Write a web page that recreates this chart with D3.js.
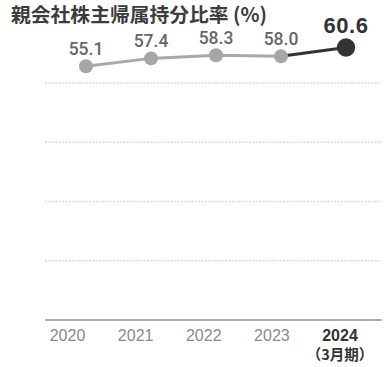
<!DOCTYPE html>
<html><head><meta charset="utf-8">
<script src="https://cdn.jsdelivr.net/npm/d3@7"></script>
<style>body{margin:0;background:#fff}svg{display:block}</style>
</head><body>
<svg id="c" width="392" height="367"></svg>
<script>
const title = "親会社株主帰属持分比率 (%)";
const years = ["2020","2021","2022","2023","2024"];
const values = [55.1, 57.4, 58.3, 58.0, 60.6];
const subLabel = "（3月期）";
const gridTicks = [0, 1, 2, 3];

const svg = d3.select("#c");
const font = "'Liberation Sans','Noto Sans CJK JP',sans-serif";

const x = d3.scalePoint().domain(years).range([86, 346]);
const xLab = d3.scalePoint().domain(years).range([67.5, 340]);
const y = d3.scaleLinear().domain([55.1, 60.6]).range([66.2, 47.5]);
const g = d3.scaleLinear().domain([0, 4]).range([83, 320]);

svg.append("text").attr("x", 11).attr("y", 22)
  .attr("font-family", "'Noto Sans CJK JP',sans-serif").attr("font-weight", 700)
  .attr("font-size", 19.8).attr("fill", "#3c3c3c").text(title);

svg.selectAll("line.grid").data(gridTicks).join("line").attr("class","grid")
  .attr("x1", 45).attr("x2", 382).attr("y1", d => g(d)).attr("y2", d => g(d))
  .attr("stroke", "#d9d9d9").attr("stroke-width", 1.5).attr("stroke-dasharray", "2,1.4");

svg.append("line").attr("x1", 45).attr("x2", 382).attr("y1", g(4)).attr("y2", g(4))
  .attr("stroke", "#ababab").attr("stroke-width", 1.8);

const pts = years.map((d, i) => ({year: d, v: values[i]}));
const line = d3.line().x(d => x(d.year)).y(d => y(d.v));
svg.append("path").attr("d", line(pts.slice(0, 4))).attr("fill", "none")
  .attr("stroke", "#a9a9ab").attr("stroke-width", 3);
svg.append("path").attr("d", line(pts.slice(3))).attr("fill", "none")
  .attr("stroke", "#333").attr("stroke-width", 3);

svg.selectAll("circle").data(pts).join("circle")
  .attr("cx", d => x(d.year)).attr("cy", d => y(d.v))
  .attr("r", (d, i) => i === 4 ? 9.2 : 7)
  .attr("fill", (d, i) => i === 4 ? "#333" : "#a6a6a8");

svg.selectAll("text.val").data(pts).join("text").attr("class","val")
  .attr("x", d => x(d.year))
  .attr("y", (d, i) => y(d.v) - (i === 4 ? 14.5 : 11.5))
  .attr("text-anchor", "middle")
  .attr("font-family", (d, i) => i === 4 ? font : "Roboto,'Liberation Sans',sans-serif")
  .attr("font-weight", (d, i) => i === 4 ? 700 : 500)
  .attr("font-size", (d, i) => i === 4 ? 22 : 17.5)
  .attr("letter-spacing", (d, i) => i === 4 ? 0.6 : 0)
  .attr("fill", (d, i) => i === 4 ? "#333" : "#666")
  .text(d => d.v.toFixed(1));

svg.selectAll("text.yr").data(years).join("text").attr("class","yr")
  .attr("x", d => xLab(d)).attr("y", 340.5)
  .attr("text-anchor", "middle").attr("font-family", font)
  .attr("font-weight", (d, i) => i === 4 ? 700 : 400)
  .attr("font-size", 16)
  .attr("fill", (d, i) => i === 4 ? "#333" : "#8a8a8a")
  .text(d => d);

svg.append("text").attr("x", xLab("2024")).attr("y", 360)
  .attr("text-anchor", "middle").attr("font-family", "'Noto Sans CJK JP',sans-serif")
  .attr("font-weight", 700).attr("font-size", 14.5).attr("fill", "#333").text(subLabel);
</script>
</body></html>
